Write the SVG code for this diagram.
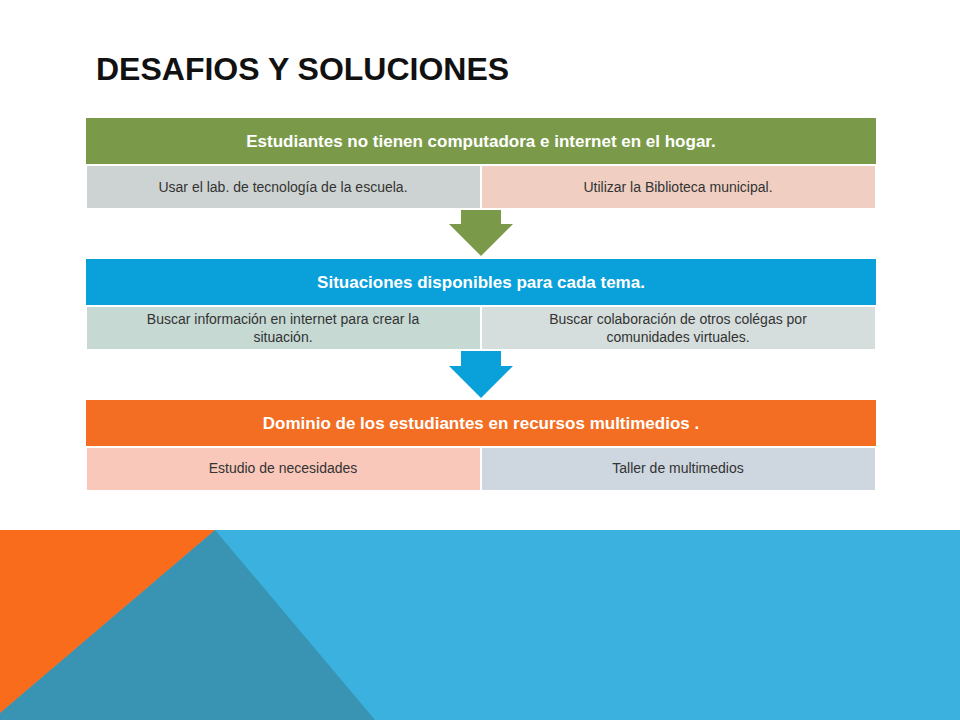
<svg xmlns="http://www.w3.org/2000/svg" width="960" height="720" viewBox="0 0 960 720">
<style>
.h{font-family:"Liberation Sans",Arial,sans-serif;font-size:17px;font-weight:bold;fill:#fff;text-anchor:middle}
.s{font-family:"Liberation Sans",Arial,sans-serif;font-size:14px;fill:#333;text-anchor:middle}
.c{stroke:#fff;stroke-width:2}
</style>
<rect width="960" height="720" fill="#fff"/>
<rect x="0" y="530" width="960" height="190" fill="#3AB1DE"/>
<polygon points="215,530 375,720 0,720 0,713" fill="#3993B2"/>
<polygon points="0,530 215,530 0,713" fill="#F86C1C"/>
<text x="96" y="80" font-family="'Liberation Sans',Arial,sans-serif" font-size="32" font-weight="bold" fill="#111">DESAFIOS Y SOLUCIONES</text>
<g id="connectors">
<polygon points="461,209 501,209 501,224 513,224 481,256 449,224 461,224" fill="#7A9A4A"/>
<polygon points="461,350 501,350 501,366 513,366 481,398 449,366 461,366" fill="#0AA0DA"/>
</g>
<g id="n1">
<rect x="86" y="118" width="790" height="47" fill="#7A9A4A"/>
<text class="h" x="481" y="147">Estudiantes no tienen computadora e internet en el hogar.</text>
<rect class="c" x="86" y="165" width="395" height="44" fill="#CDD3D2"/>
<rect class="c" x="481" y="165" width="395" height="44" fill="#F0CFC2"/>
<text class="s" x="283" y="192">Usar el lab. de tecnología de la escuela.</text>
<text class="s" x="678" y="192">Utilizar la Biblioteca municipal.</text>
</g>
<g id="n2">
<rect x="86" y="259" width="790" height="47" fill="#0AA0DA"/>
<text class="h" x="481" y="288">Situaciones disponibles para cada tema.</text>
<rect class="c" x="86" y="306" width="395" height="44" fill="#C6D9D3"/>
<rect class="c" x="481" y="306" width="395" height="44" fill="#D5DEDC"/>
<text class="s" x="283" y="324">Buscar información en internet para crear la</text>
<text class="s" x="283" y="342">situación.</text>
<text class="s" x="678" y="324">Buscar colaboración de otros colégas por</text>
<text class="s" x="678" y="342">comunidades virtuales.</text>
</g>
<g id="n3">
<rect x="86" y="400" width="790" height="47" fill="#F36E22"/>
<text class="h" x="481" y="429">Dominio de los estudiantes en recursos multimedios .</text>
<rect class="c" x="86" y="447" width="395" height="44" fill="#F9C8BA"/>
<rect class="c" x="481" y="447" width="395" height="44" fill="#CED6DF"/>
<text class="s" x="283" y="473">Estudio de necesidades</text>
<text class="s" x="678" y="473">Taller de multimedios</text>
</g>
</svg>
